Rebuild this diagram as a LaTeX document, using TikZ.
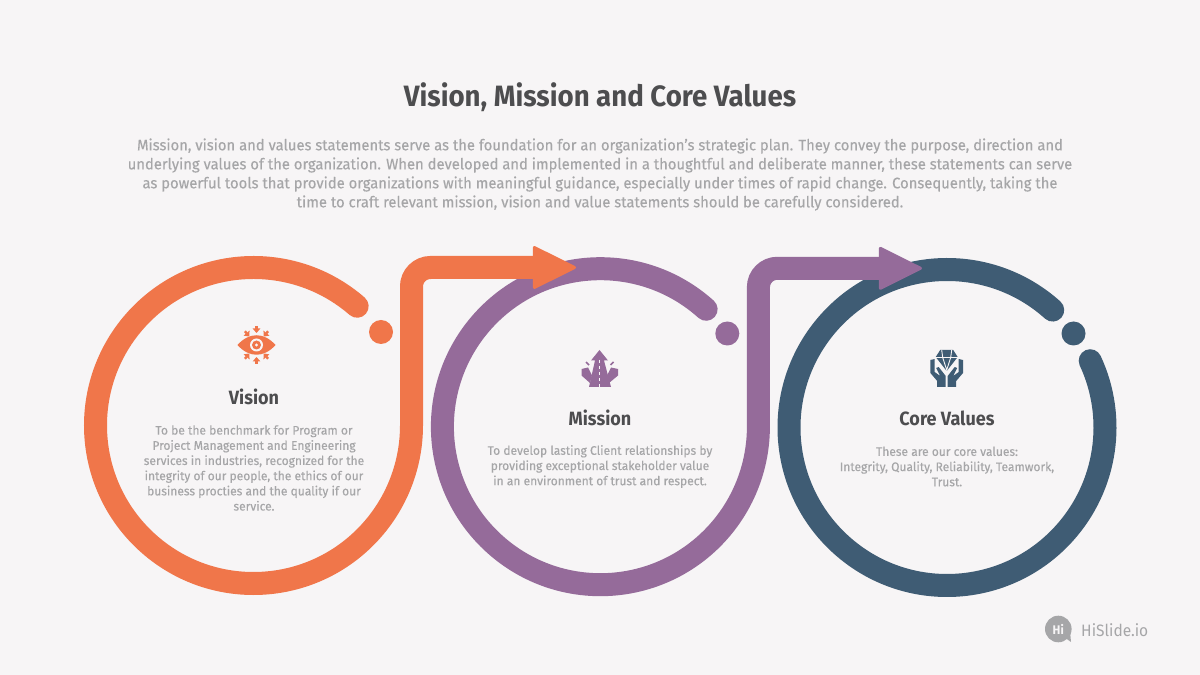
\documentclass[tikz,border=0pt]{standalone}
\usepackage{fontspec}
\setmainfont{Fira Sans}[FakeStretch=0.97,FakeBold=0.25]
\newfontfamily\headfont{Fira Sans}[FakeStretch=0.94]
\usetikzlibrary{arrows.meta}
\definecolor{pagebg}{HTML}{F7F5F6}
\definecolor{visioncol}{HTML}{F0764A}
\definecolor{missioncol}{HTML}{956B9A}
\definecolor{corecol}{HTML}{3F5C74}
\definecolor{headcol}{HTML}{4D4D4F}
\definecolor{bodycol}{HTML}{A6A6A8}
\tikzset{
  ringline/.style={line width=23pt,line cap=round},
  arrowline/.style={line width=23pt,line cap=round,-{Triangle[length=45pt,width=44pt,line width=3pt,round]}},
  dotmark/.style={circle,inner sep=0pt,minimum size=24pt},
  titletext/.style={text=headcol,font=\headfont\fontsize{29.4}{34}\selectfont\bfseries},
  introtext/.style={text=bodycol,align=center,font=\fontsize{15.25}{19}\selectfont},
  headtext/.style={text=headcol,font=\headfont\fontsize{19.2}{23}\selectfont\bfseries},
  cardtext/.style={text=bodycol,align=center,font=\fontsize{12.4}{15.2}\selectfont},
}
\begin{document}
\begin{tikzpicture}[x=1pt,y=1pt]
        \useasboundingbox (0,0) rectangle (1200,675);
        \fill[pagebg] (0,0) rectangle (1200,675);
        %% Centres
        \coordinate (VC) at (253.5,249.5);
        \coordinate (MC) at (600.4,248.3);
        \coordinate (CC) at (947,247.5);
        %% Core values ring
        \draw[ringline,draw=corecol] (CC) ++(48:158) arc[start angle=48,end angle=385,radius=158];
        \node[dotmark,fill=corecol] (CD) at (1073.5,341.5) {};
        %% Mission ring
        \draw[arrowline,draw=missioncol] (MC) ++(48:158) arc[start angle=48,end angle=360,radius=158] -- ++(90:139.4) arc[start angle=180,end angle=90,radius=19] -- (922,406.7);
        \node[dotmark,fill=missioncol] (MD) at (727.3,341.5) {};
        %% Vision ring
        \draw[arrowline,draw=visioncol] (VC) ++(49:158) arc[start angle=49,end angle=360,radius=158] -- ++(90:139) arc[start angle=180,end angle=90,radius=19] -- (576,407.5);
        \node[dotmark,fill=visioncol] (VD) at (381,343) {};
        %% Texts
        \node[titletext] (T) at (600,578) {Vision, Mission and Core Values};
        \node[introtext] (I) at (600,500.5) {Mission, vision and values statements serve as the foundation for an organization’s strategic plan. They convey the purpose, direction and\\underlying values of the organization. When developed and implemented in a thoughtful and deliberate manner, these statements can serve\\as powerful tools that provide organizations with meaningful guidance, especially under times of rapid change. Consequently, taking the\\time to craft relevant mission, vision and value statements should be carefully considered.};
        \node[headtext] (VH) at (254,278) {Vision};
        \node[cardtext] (VT) at (254,207) {To be the benchmark for Program or\\Project Management and Engineering\\services in industries, recognized for the\\integrity of our people, the ethics of our\\business procties and the quality if our\\service.};
        \node[headtext] (MH) at (600,257) {Mission};
        \node[cardtext] (MT) at (600,208.5) {To develop lasting Client relationships by\\providing exceptional stakeholder value\\in an environment of trust and respect.};
        \node[headtext] (CH) at (947,257) {Core Values};
        \node[cardtext] (CT) at (947,208.5) {These are our core values:\\Integrity, Quality, Reliability, Teamwork,\\Trust.};
        %% Eye icon
        \coordinate (EC) at (256.5,330);
        \fill[visioncol] (237.5,330) .. controls (249,343) and (264,343) .. (275.5,330) .. controls (264,317) and (249,317) .. (237.5,330) -- cycle;
        \fill[pagebg] (EC) circle[radius=6.5];
        \fill[visioncol] (EC) circle[radius=4.5];
        \fill[pagebg] (EC) circle[radius=1.6];
        \foreach \ang/\rad in {50/18,90/19,130/18,230/18,270/19,310/18}
            \draw[visioncol,line width=2.4pt,-{Triangle[length=4.5pt,width=7.5pt]}] (EC) ++(\ang:\rad) -- ++(\ang:-7);
        %% Road icon
        \fill[missioncol] (599.5,325) -- (608,314.5) -- (604,314.5) -- (611,288) -- (589,288) -- (595,314.5) -- (591,314.5) -- cycle;
        \draw[pagebg,line width=1.6pt,dash pattern=on 3.5pt off 2.5pt] (599.5,315) -- (599.5,288);
        \fill[missioncol] (581.5,306) -- (588,307.5) -- (592,299.5) -- (590,292) -- (581.5,299.5) -- cycle;
        \fill[missioncol] (618,306) -- (611,307.5) -- (607,299.5) -- (609,292) -- (618,299.5) -- cycle;
        \draw[missioncol,line width=1.5pt] (586,313) -- (589,310);
        \draw[missioncol,line width=1.5pt] (613.5,313) -- (610.5,310);
        %% Gem and hands icon
        \begin{scope}[shift={(946.7,0)}]
            \fill[corecol] (-6.5,325) -- (6.5,325) -- (11,318) -- (0,304) -- (-11,318) -- cycle;
            \draw[pagebg,line width=0.9pt] (-12,317.5) -- (12,317.5) (-5,325) -- (-4,317.5) -- (0,305) -- (4,317.5) -- (5,325);
            \foreach \s in {1,-1}
                \fill[corecol,xscale=\s] (-16.3,315) -- (-12,316) -- (-12,303) -- (-6.5,299) -- (-10.5,307) -- (-8,308) -- (-1,299) -- (-1,288) -- (-9.5,288) -- (-9.5,294) -- (-16.3,302) -- cycle;
        \end{scope}
        %% Logo
        \fill[bodycol] (1058.3,46) circle[radius=13.3];
        \fill[bodycol] (1064,38) -- (1071,33) -- (1070,44) -- cycle;
        \node[text=pagebg,font=\headfont\fontsize{12.5}{15}\selectfont\bfseries] (LH) at (1058.3,46) {Hi};
        \node[text=bodycol,font=\headfont\fontsize{16.5}{20}\selectfont,anchor=west,inner sep=0pt] (LT) at (1081,45) {HiSlide.io};
    \end{tikzpicture}
\end{document}
